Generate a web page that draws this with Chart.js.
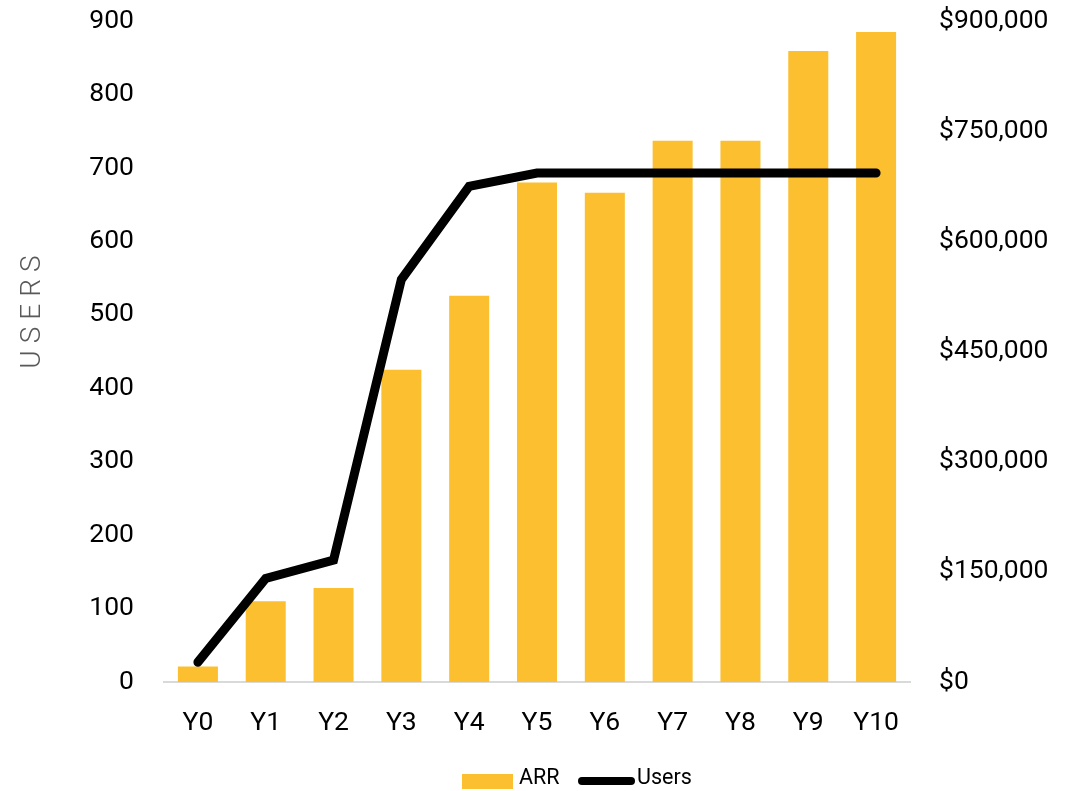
<!DOCTYPE html>
<html>
<head>
<meta charset="utf-8">
<script src="https://cdn.jsdelivr.net/npm/chart.js@4.4.1/dist/chart.umd.min.js"></script>
<style>
html,body{margin:0;padding:0;background:#fff;}
#wrap{width:1076px;height:791px;}
</style>
</head>
<body>
<div id="wrap"><canvas id="c" width="1076" height="791"></canvas></div>
<script>
const categories = ['Y0','Y1','Y2','Y3','Y4','Y5','Y6','Y7','Y8','Y9','Y10'];
const arrValues = [21000, 110000, 128000, 425000, 526000, 680000, 666000, 737000, 737000, 859000, 885000];
const userValues = [27, 141, 166, 548, 675, 693, 693, 693, 693, 693, 693];
const yAxisTitle = 'USERS';

const titlePlugin = {
  id: 'usersTitle',
  afterDraw(chart) {
    const ctx = chart.ctx;
    ctx.save();
    ctx.translate(33, 312);
    ctx.rotate(-Math.PI / 2);
    ctx.font = '300 28px Roboto';
    ctx.fillStyle = '#595959';
    ctx.textAlign = 'center';
    ctx.textBaseline = 'middle';
    if ('letterSpacing' in ctx) ctx.letterSpacing = '7px';
    ctx.fillText(yAxisTitle, 3.5, 0);
    ctx.restore();
  }
};

const legendPlugin = {
  id: 'customLegend',
  afterDraw(chart) {
    const ctx = chart.ctx;
    const ds = chart.data.datasets;
    ctx.save();
    ctx.font = '21.5px Roboto';
    ctx.textBaseline = 'middle';
    ctx.textAlign = 'left';
    // ARR swatch
    ctx.fillStyle = ds[0].backgroundColor;
    ctx.fillRect(462, 774, 51, 15);
    ctx.fillStyle = '#000';
    ctx.fillText(ds[0].label, 519, 779);
    // Users swatch
    ctx.strokeStyle = ds[1].borderColor;
    ctx.lineWidth = 8;
    ctx.lineCap = 'round';
    ctx.beginPath();
    ctx.moveTo(582, 781);
    ctx.lineTo(631, 781);
    ctx.stroke();
    ctx.fillText(ds[1].label, 637, 779);
    ctx.restore();
  }
};

function zeroPad(s) { s.paddingTop = 0; s.paddingBottom = 0; s.paddingLeft = 0; s.paddingRight = 0; }

Chart.defaults.font.family = 'Roboto';
Chart.defaults.color = '#000';

new Chart(document.getElementById('c'), {
  data: {
    labels: categories,
    datasets: [
      {
        type: 'bar',
        label: 'ARR',
        data: arrValues,
        yAxisID: 'y1',
        backgroundColor: '#FBBF2F',
        borderWidth: 0,
        barPercentage: 0.59,
        categoryPercentage: 1.0,
        order: 1
      },
      {
        type: 'line',
        label: 'Users',
        data: userValues,
        yAxisID: 'y',
        borderColor: '#000',
        backgroundColor: '#000',
        borderWidth: 9,
        borderCapStyle: 'round',
        borderJoinStyle: 'miter',
        pointRadius: 0,
        tension: 0,
        order: 0
      }
    ]
  },
  options: {
    responsive: false,
    animation: false,
    layout: { padding: { left: 0, right: 0, top: 21, bottom: 49 } },
    plugins: {
      tooltip: { enabled: false },
      legend: { display: false }
    },
    scales: {
      x: {
        grid: { display: false, drawTicks: false },
        border: { display: true, color: '#d9d9d9', width: 2 },
        ticks: { font: { size: 26.5 }, color: '#000', padding: 25 },
        afterFit: s => { s.height = 60; zeroPad(s); }
      },
      y: {
        position: 'left',
        min: 0, max: 900,
        grid: { display: false, drawTicks: false },
        border: { display: false },
        ticks: { stepSize: 100, font: { size: 26.5 }, color: '#000', padding: 30 },
        afterFit: s => { s.width = 164; zeroPad(s); }
      },
      y1: {
        position: 'right',
        min: 0, max: 900000,
        grid: { display: false, drawTicks: false },
        border: { display: false },
        ticks: {
          stepSize: 150000, font: { size: 26.5 }, color: '#000', padding: 29,
          callback: v => '$' + v.toLocaleString('en-US')
        },
        afterFit: s => { s.width = 166; zeroPad(s); }
      }
    }
  },
  plugins: [titlePlugin, legendPlugin]
});
</script>
</body>
</html>
